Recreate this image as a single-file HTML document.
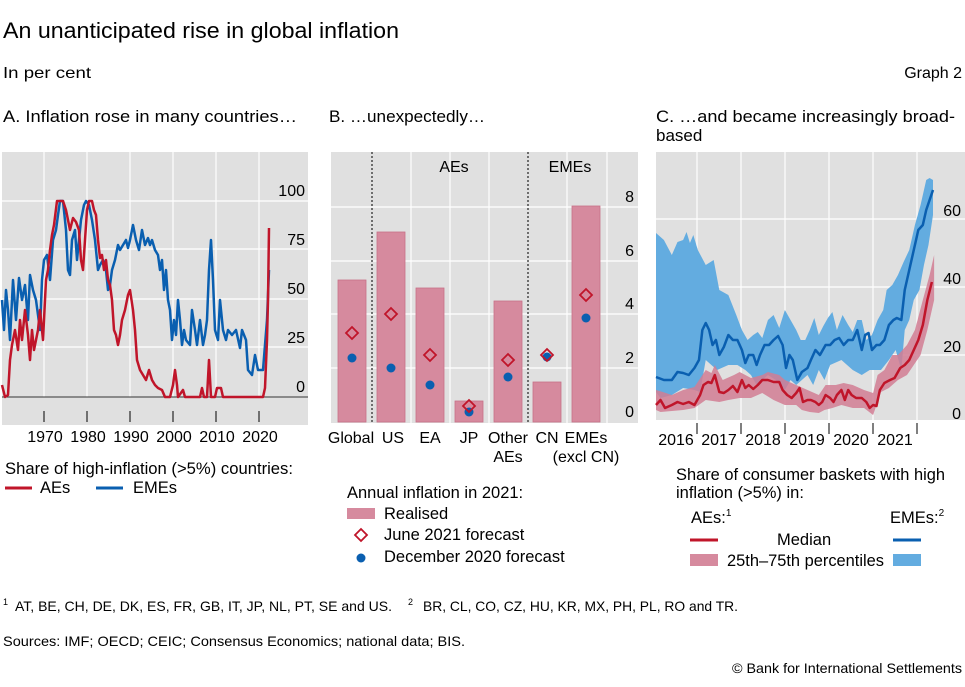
<!DOCTYPE html>
<html><head><meta charset="utf-8"><style>
body{margin:0;background:#fff}
svg{display:block;font-family:"Liberation Sans",sans-serif}
</style></head><body>
<svg width="965" height="687" viewBox="0 0 965 687">
<g fill="#000">
<text x="3" y="38" font-size="22" textLength="396" lengthAdjust="spacingAndGlyphs">An unanticipated rise in global inflation</text>
<text x="3" y="78" font-size="16" textLength="88" lengthAdjust="spacingAndGlyphs">In per cent</text>
<text x="962" y="78" font-size="16" text-anchor="end">Graph 2</text>
<text x="3" y="122" font-size="17" textLength="294" lengthAdjust="spacingAndGlyphs">A. Inflation rose in many countries…</text>
<text x="329" y="122" font-size="17" textLength="156" lengthAdjust="spacingAndGlyphs">B. …unexpectedly…</text>
<text x="656" y="122" font-size="17" textLength="299" lengthAdjust="spacingAndGlyphs">C. …and became increasingly broad-</text>
<text x="656" y="141" font-size="17">based</text>
</g>
<!-- Panel A -->
<rect x="2" y="152" width="306" height="273" fill="#e0e0e0"/>
<g stroke="#fff" stroke-width="1.2">
<line x1="44" y1="152" x2="44" y2="397"/><line x1="87" y1="152" x2="87" y2="397"/><line x1="130" y1="152" x2="130" y2="397"/><line x1="173" y1="152" x2="173" y2="397"/><line x1="216" y1="152" x2="216" y2="397"/><line x1="259" y1="152" x2="259" y2="397"/>
<line x1="2" y1="201" x2="308" y2="201"/><line x1="2" y1="249" x2="308" y2="249"/><line x1="2" y1="299" x2="308" y2="299"/><line x1="2" y1="347" x2="308" y2="347"/>
</g>
<line x1="2" y1="397" x2="308" y2="397" stroke="#333" stroke-width="1"/>
<g stroke="#000" stroke-width="1"><line x1="44" y1="411" x2="44" y2="422"/><line x1="87" y1="411" x2="87" y2="422"/><line x1="130" y1="411" x2="130" y2="422"/><line x1="173" y1="411" x2="173" y2="422"/><line x1="216" y1="411" x2="216" y2="422"/><line x1="259" y1="411" x2="259" y2="422"/></g>
<g font-size="16" text-anchor="end"><text x="305" y="196">100</text><text x="305" y="245">75</text><text x="305" y="294">50</text><text x="305" y="343">25</text><text x="305" y="392">0</text></g>
<g font-size="16" text-anchor="middle"><text x="45" y="442">1970</text><text x="88" y="442">1980</text><text x="131" y="442">1990</text><text x="174" y="442">2000</text><text x="217" y="442">2010</text><text x="260" y="442">2020</text></g>
<polyline fill="none" stroke="#0a5fb0" stroke-width="2.5" stroke-linejoin="round" points="2,300 4,330 6,290 8,310 10,340 13,280 16,320 19,278 22,300 25,285 28,320 30,275 33,290 36,300 40,330 42,280 44,260 47,255 50,280 53,240 56,230 58,215 60,201 63,201 66,230 68,270 70,275 72,240 75,230 77,260 79,240 81,220 84,205 86,201 89,205 92,220 95,240 98,270 100,265 103,260 106,270 108,290 110,285 112,270 115,260 118,245 120,250 123,245 126,240 128,248 130,240 133,225 136,240 139,250 142,230 145,245 148,238 150,245 152,240 155,250 158,255 160,270 162,260 164,290 166,270 168,300 170,310 172,340 174,320 176,335 178,300 180,320 182,345 184,330 186,340 190,345 192,310 195,330 197,345 200,320 203,345 205,335 207,320 209,270 211,240 213,280 215,330 218,340 220,300 223,330 226,340 228,330 232,335 236,330 240,348 242,330 246,340 248,370 252,375 255,355 258,370 263,370 265,345 267,320 269,270"/>
<polyline fill="none" stroke="#c0152a" stroke-width="2.5" stroke-linejoin="round" points="2,385 5,397 8,395 10,360 12,345 15,330 18,350 20,320 22,340 25,310 28,335 30,360 32,330 34,350 36,340 38,330 40,310 43,340 46,280 48,270 50,250 52,235 54,225 57,201 60,201 63,201 66,210 68,220 70,230 73,218 76,222 79,230 81,260 83,270 85,240 87,210 89,201 92,201 94,210 96,215 98,240 100,258 102,255 104,270 106,260 108,280 110,285 112,300 114,330 116,335 118,345 120,335 122,320 125,310 128,295 130,290 133,310 135,330 137,360 140,370 143,375 146,380 149,370 152,380 155,385 158,388 162,390 165,397 170,397 173,385 175,370 177,385 178,397 183,390 185,397 200,397 202,388 204,397 207,397 209,360 211,397 215,397 217,388 221,388 223,397 263,397 265,388 267,340 268,300 269,228"/>
<text x="5" y="474" font-size="16.5" textLength="288" lengthAdjust="spacingAndGlyphs">Share of high-inflation (&gt;5%) countries:</text>
<line x1="5" y1="488" x2="32" y2="488" stroke="#c0152a" stroke-width="3"/><text x="40" y="493" font-size="16.5">AEs</text>
<line x1="96" y1="488" x2="123" y2="488" stroke="#0a5fb0" stroke-width="3"/><text x="133" y="493" font-size="16.5">EMEs</text>
<!-- Panel B -->
<rect x="331" y="152" width="307" height="271" fill="#e0e0e0"/>
<g stroke="#fff" stroke-width="1.2">
<line x1="411" y1="152" x2="411" y2="423"/><line x1="450" y1="152" x2="450" y2="423"/><line x1="489" y1="152" x2="489" y2="423"/><line x1="567" y1="152" x2="567" y2="423"/><line x1="607" y1="152" x2="607" y2="423"/>
<line x1="331" y1="207" x2="638" y2="207"/><line x1="331" y1="261" x2="638" y2="261"/><line x1="331" y1="314" x2="638" y2="314"/><line x1="331" y1="368" x2="638" y2="368"/>
</g>
<g fill="#d68a9e" stroke="#c77088" stroke-width="0.8">
<rect x="338" y="280" width="28" height="142"/><rect x="377" y="232" width="28" height="190"/><rect x="416" y="288" width="28" height="134"/><rect x="455" y="401" width="28" height="21"/><rect x="494" y="301" width="28" height="121"/><rect x="533" y="382" width="28" height="40"/><rect x="572" y="206" width="28" height="216"/>
</g>
<g stroke="#222" stroke-width="1.2" stroke-dasharray="2,2"><line x1="372" y1="152" x2="372" y2="423"/><line x1="528" y1="152" x2="528" y2="423"/></g>
<g fill="#0a5fb0"><circle cx="352" cy="358" r="4.5"/><circle cx="391" cy="368" r="4.5"/><circle cx="430" cy="385" r="4.5"/><circle cx="469" cy="412" r="4.5"/><circle cx="508" cy="377" r="4.5"/><circle cx="547" cy="357" r="4.5"/><circle cx="586" cy="318" r="4.5"/></g>
<g fill="none" stroke="#c0152a" stroke-width="1.8">
<path d="M352 327l6 6-6 6-6-6z"/><path d="M391 308l6 6-6 6-6-6z"/><path d="M430 349l6 6-6 6-6-6z"/><path d="M469 400l6 6-6 6-6-6z"/><path d="M508 354l6 6-6 6-6-6z"/><path d="M547 349l6 6-6 6-6-6z"/><path d="M586 289l6 6-6 6-6-6z"/>
</g>
<g font-size="16"><text x="454" y="172" text-anchor="middle">AEs</text><text x="570" y="172" text-anchor="middle">EMEs</text></g>
<g font-size="16" text-anchor="end"><text x="634" y="202">8</text><text x="634" y="256">6</text><text x="634" y="309">4</text><text x="634" y="363">2</text><text x="634" y="417">0</text></g>
<g font-size="16" text-anchor="middle"><text x="351" y="443">Global</text><text x="393" y="443">US</text><text x="430" y="443">EA</text><text x="469" y="443">JP</text><text x="508" y="443">Other</text><text x="508" y="462">AEs</text><text x="547" y="443">CN</text><text x="586" y="443">EMEs</text><text x="586" y="462">(excl CN)</text></g>
<text x="347" y="498" font-size="16.5">Annual inflation in 2021:</text>
<rect x="347" y="508" width="28" height="11" fill="#d68a9e"/><text x="384" y="519" font-size="16.5">Realised</text>
<path d="M361 529l6 6-6 6-6-6z" fill="none" stroke="#c0152a" stroke-width="1.8"/><text x="384" y="540" font-size="16.5">June 2021 forecast</text>
<circle cx="361" cy="558" r="4.5" fill="#0a5fb0"/><text x="384" y="562" font-size="16.5">December 2020 forecast</text>
<!-- Panel C -->
<rect x="656" y="152" width="309" height="268" fill="#e0e0e0"/>
<g stroke="#fff" stroke-width="1.2">
<line x1="697" y1="152" x2="697" y2="420"/><line x1="741" y1="152" x2="741" y2="420"/><line x1="785" y1="152" x2="785" y2="420"/><line x1="829" y1="152" x2="829" y2="420"/><line x1="873" y1="152" x2="873" y2="420"/><line x1="917" y1="152" x2="917" y2="420"/>
<line x1="656" y1="219" x2="965" y2="219"/><line x1="656" y1="287" x2="965" y2="287"/><line x1="656" y1="355" x2="965" y2="355"/>
</g>
<g transform="translate(656,0) scale(1.1306,1) translate(-656,0)">
<polygon fill="#63ace0" points="656,233 663,240 670,255 675,242 680,240 683,232 686,243 689,235 693,250 700,265 707,260 712,290 720,295 727,315 732,330 737,340 742,335 746,332 750,338 755,320 760,315 765,328 770,310 775,320 780,330 784,340 788,340 792,330 796,318 800,335 804,326 808,318 812,312 816,330 821,315 826,325 830,332 834,320 838,320 842,340 847,335 852,320 857,310 860,290 865,285 870,275 875,262 880,250 885,225 890,205 895,180 898,178 901,180 901,215 897,245 893,265 889,290 884,300 880,320 876,330 873,370 868,350 862,360 855,370 845,370 838,375 830,370 820,360 810,365 805,380 800,370 795,385 790,375 785,380 780,385 775,380 770,390 762,380 755,375 745,385 740,375 735,370 728,365 720,365 710,370 700,360 695,392 690,390 680,388 670,395 660,398 656,392"/>
<polygon fill="#d17d93" opacity="0.85" points="656,390 662,392 670,395 680,390 690,387 700,370 705,373 708,365 715,380 725,375 730,372 740,378 750,375 755,372 765,375 770,380 780,385 790,390 800,395 806,385 815,385 822,383 830,385 840,390 848,393 852,375 858,370 865,355 870,355 878,345 885,330 892,300 898,275 902,255 902,300 896,330 890,355 884,365 878,375 870,380 862,388 855,392 848,415 840,408 830,408 820,405 812,408 805,410 800,413 792,412 785,410 780,405 770,405 760,400 750,393 740,398 730,398 720,400 712,402 700,400 690,408 680,410 670,411 660,412 656,410"/>
<polyline fill="none" stroke="#0a5fb0" stroke-width="2.5" vector-effect="non-scaling-stroke" stroke-linejoin="round" points="656,377 663,380 670,380 675,372 680,373 685,375 690,368 694,360 697,330 700,323 703,330 706,345 709,340 712,355 716,347 720,335 724,340 728,340 732,350 735,363 738,355 742,355 745,365 748,355 752,345 756,345 760,340 764,336 768,345 771,368 774,355 777,360 781,380 785,372 790,368 793,360 797,350 801,355 806,345 810,345 814,340 818,338 822,345 826,340 830,340 834,330 838,350 841,335 844,333 847,350 851,345 854,345 858,340 862,325 866,320 869,318 873,320 876,290 880,270 884,250 888,230 892,225 895,210 898,200 901,190"/>
<polyline fill="none" stroke="#c0152a" stroke-width="2.5" vector-effect="non-scaling-stroke" stroke-linejoin="round" points="656,405 660,400 664,408 670,405 675,402 680,404 685,402 690,405 695,395 698,385 702,382 705,383 708,375 712,392 716,393 720,390 724,386 728,392 732,380 735,388 738,385 742,389 746,385 750,380 755,380 760,382 765,382 768,390 772,395 776,398 780,393 783,388 786,402 790,400 793,400 797,402 800,405 803,402 806,395 810,398 813,402 816,395 820,390 823,400 826,390 829,395 833,398 838,398 842,402 845,408 848,405 851,406 854,390 858,383 863,380 867,378 870,372 872,368 876,365 880,360 884,350 888,340 892,325 896,300 900,282"/>
</g>
<g font-size="16" text-anchor="end"><text x="961" y="216">60</text><text x="961" y="284">40</text><text x="961" y="352">20</text><text x="961" y="419">0</text></g>
<g stroke="#000" stroke-width="1"><line x1="697" y1="423" x2="697" y2="434"/><line x1="741" y1="423" x2="741" y2="434"/><line x1="785" y1="423" x2="785" y2="434"/><line x1="829" y1="423" x2="829" y2="434"/><line x1="873" y1="423" x2="873" y2="434"/><line x1="917" y1="423" x2="917" y2="434"/></g>
<g font-size="16" text-anchor="middle"><text x="676" y="445">2016</text><text x="719" y="445">2017</text><text x="763" y="445">2018</text><text x="807" y="445">2019</text><text x="851" y="445">2020</text><text x="895" y="445">2021</text></g>
<text x="676" y="480" font-size="16.5" textLength="269" lengthAdjust="spacingAndGlyphs">Share of consumer baskets with high</text>
<text x="676" y="498" font-size="16.5">inflation (&gt;5%) in:</text>
<text x="691" y="523" font-size="16.5">AEs:<tspan font-size="10" dy="-7">1</tspan></text>
<text x="890" y="523" font-size="16.5">EMEs:<tspan font-size="10" dy="-7">2</tspan></text>
<line x1="690" y1="540" x2="718" y2="540" stroke="#c0152a" stroke-width="3"/>
<line x1="893" y1="540" x2="921" y2="540" stroke="#0a5fb0" stroke-width="3"/>
<text x="777" y="545" font-size="16.5">Median</text>
<rect x="690" y="554" width="28" height="12" fill="#d68a9e"/>
<rect x="893" y="554" width="28" height="12" fill="#63ace0"/>
<text x="727" y="566" font-size="16.5" textLength="157" lengthAdjust="spacingAndGlyphs">25th–75th percentiles</text>
<!-- footer -->
<text x="3" y="611" font-size="14"><tspan font-size="9" dy="-6">1</tspan><tspan x="15" dy="6" textLength="377" lengthAdjust="spacingAndGlyphs">AT, BE, CH, DE, DK, ES, FR, GB, IT, JP, NL, PT, SE and US.</tspan><tspan x="408" font-size="9" dy="-6">2</tspan><tspan x="423" dy="6" textLength="315" lengthAdjust="spacingAndGlyphs">BR, CL, CO, CZ, HU, KR, MX, PH, PL, RO and TR.</tspan></text>
<text x="3" y="646" font-size="14" textLength="462" lengthAdjust="spacingAndGlyphs">Sources: IMF; OECD; CEIC; Consensus Economics; national data; BIS.</text>
<text x="962" y="673" font-size="14" text-anchor="end" textLength="230" lengthAdjust="spacingAndGlyphs">© Bank for International Settlements</text>
</svg>
</body></html>
